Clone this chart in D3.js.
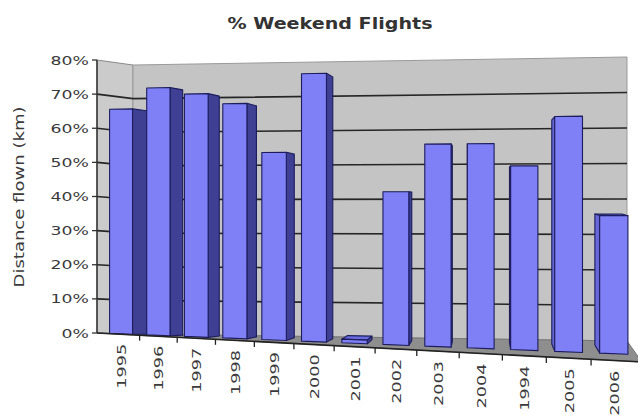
<!DOCTYPE html>
<html>
<head>
<meta charset="utf-8">
<script src="https://d3js.org/d3.v7.min.js"></script>
<style>
  body { margin: 0; background: #fff; }
  text { font-family: "DejaVu Sans", sans-serif; fill: #3a3a3a; }
</style>
</head>
<body>
<svg id="chart" width="638" height="415"></svg>
<script>
// values
const years = ["1995", "1996", "1997", "1998", "1999", "2000", "2001", "2002", "2003", "2004", "1994", "2005", "2006"];
const shares = [0.66, 0.72, 0.70, 0.67, 0.53, 0.75, 0.01, 0.42, 0.55, 0.55, 0.49, 0.62, 0.36];
const yTicks = [0, 0.1, 0.2, 0.3, 0.4, 0.5, 0.6, 0.7, 0.8];
const yTickLabels = ["0%", "10%", "20%", "30%", "40%", "50%", "60%", "70%", "80%"];
const titleText = "% Weekend Flights";
const yTitle = "Distance flown (km)";

const svg = d3.select("#chart");

// corners of the 3d box: front (z=0) and back wall (z=1)
const front = { L0: [97, 333], L1: [97, 60], R0: [642, 362], R1: [642, 40] };
const back = { L0: [133, 334], L1: [133, 65], R0: [627, 341], R1: [627, 57] };

const x = d3.scaleBand().domain(years).range([0, 0.985]).paddingInner(0.38).paddingOuter(0);
const y = d3.scaleLinear().domain([0, 0.8]).range([0, 1]);

// left side is further away -> squeeze it a bit
const squeeze = -0.1056;
const warp = u => u * (1 + squeeze) / (1 + squeeze * u);

function onFace(f, w, v) {
  const b = [f.L0[0] + (f.R0[0] - f.L0[0]) * w, f.L0[1] + (f.R0[1] - f.L0[1]) * w];
  const t = [f.L1[0] + (f.R1[0] - f.L1[0]) * w, f.L1[1] + (f.R1[1] - f.L1[1]) * w];
  return [b[0] + (t[0] - b[0]) * v, b[1] + (t[1] - b[1]) * v];
}
function project(u, v, z) {
  const w = warp(u);
  const p = onFace(front, w, v), q = onFace(back, w, v);
  return [p[0] + (q[0] - p[0]) * z, p[1] + (q[1] - p[1]) * z];
}
const poly = pts => "M" + pts.map(p => p[0].toFixed(2) + "," + p[1].toFixed(2)).join("L") + "Z";

function stretch(sel, k) {
  sel.each(function () {
    const len = this.getComputedTextLength();
    d3.select(this).attr("textLength", len * k).attr("lengthAdjust", "spacingAndGlyphs");
  });
}

// walls + floor
svg.append("path")
  .attr("d", poly([project(0, 0, 0), project(0, 1, 0), project(0, 1, 1), project(0, 0, 1)]))
  .attr("fill", "#cbcbcb").attr("stroke", "#8a8a8a").attr("stroke-width", 1);
svg.append("path")
  .attr("d", poly([project(0, 0, 1), project(0, 1, 1), project(1, 1, 1), project(1, 0, 1)]))
  .attr("fill", "#c4c4c4").attr("stroke", "#9a9a9a").attr("stroke-width", 1);
svg.append("path")
  .attr("d", poly([project(0, 0, 0), project(1, 0, 0), project(1, 0, 1), project(0, 0, 1)]))
  .attr("fill", "#8e8e8e").attr("stroke", "#777").attr("stroke-width", 1);

// gridlines on left wall and back wall
const grid = svg.append("g").attr("stroke", "#262626").attr("stroke-width", 1.6);
yTicks.filter(t => t > 0 && t < 0.8).forEach(t => {
  const v = y(t);
  const a = project(0, v, 0), b = project(0, v, 1), c = project(1, v, 1);
  grid.append("path").attr("fill", "none")
    .attr("d", "M" + a.join(",") + "L" + b.join(",") + "L" + c.join(","));
});

// bars
const z0 = 0.35, z1 = 0.77;
const bars = years.map((yr, i) => {
  const u0 = x(yr), u1 = u0 + x.bandwidth(), v = y(shares[i]);
  const FL = project(u0, 0, z0), FR = project(u1, 0, z0);
  const FTL = project(u0, v, z0), FTR = project(u1, v, z0);
  const BL = project(u0, 0, z1), BR = project(u1, 0, z1);
  const BTL = project(u0, v, z1), BTR = project(u1, v, z1);
  const rightSide = BTR[0] > FTR[0];
  return { yr, FL, FR, FTL, FTR, BL, BR, BTL, BTR, rightSide,
           depth: Math.abs(rightSide ? BTR[0] - FTR[0] : BTL[0] - FTL[0]) };
});
bars.sort((a, b) => b.depth - a.depth);

const barG = svg.append("g").attr("stroke", "#1d1d5e").attr("stroke-width", 1.1).attr("stroke-linejoin", "round");
bars.forEach(d => {
  if (d.BTL[1] < d.FTL[1]) {
    barG.append("path").attr("d", poly([d.FTL, d.FTR, d.BTR, d.BTL])).attr("fill", "#6b6be0");
  }
  if (d.rightSide) {
    barG.append("path").attr("d", poly([d.FR, d.FTR, d.BTR, d.BR])).attr("fill", "#3f3f94");
  } else {
    barG.append("path").attr("d", poly([d.FL, d.FTL, d.BTL, d.BL])).attr("fill", "#6767d8");
  }
  barG.append("path").attr("d", poly([d.FL, d.FTL, d.FTR, d.FR])).attr("fill", "#7f7ff6");
});

// value axis on the front-left edge
const axisG = svg.append("g");
const a0 = project(0, 0, 0), a1 = project(0, 1, 0);
axisG.append("line").attr("x1", a0[0]).attr("y1", a0[1]).attr("x2", a1[0]).attr("y2", a1[1])
  .attr("stroke", "#333").attr("stroke-width", 1.5);
yTicks.forEach((t, i) => {
  const p = project(0, y(t), 0);
  axisG.append("line").attr("x1", p[0] - 5).attr("x2", p[0]).attr("y1", p[1]).attr("y2", p[1])
    .attr("stroke", "#333").attr("stroke-width", 1.3);
  axisG.append("text").attr("class", "ylab")
    .attr("x", p[0] - 8).attr("y", p[1] + 4.5)
    .attr("text-anchor", "end").attr("font-size", 12.5)
    .text(yTickLabels[i]);
});
stretch(axisG.selectAll("text.ylab"), 1.38);

// category axis along the floor's front edge
const catG = svg.append("g");
const b0 = project(0, 0, 0), b1 = project(1, 0, 0);
catG.append("line").attr("x1", b0[0]).attr("y1", b0[1]).attr("x2", b1[0]).attr("y2", b1[1])
  .attr("stroke", "#222").attr("stroke-width", 1.6);
const gap = x.step() - x.bandwidth();
years.slice(0, -1).forEach(yr => {
  const u = x(yr) + x.bandwidth() + gap / 2;
  const pf = project(u, 0, 0), pb = project(u, 0, z0);
  catG.append("line").attr("x1", pb[0]).attr("x2", pb[0]).attr("y1", pf[1]).attr("y2", pf[1] + 6)
    .attr("stroke", "#222").attr("stroke-width", 1.3);
});
years.forEach(yr => {
  const u = x(yr) + x.bandwidth() / 2;
  const pf = project(u, 0, 0), pb = project(u, 0, z0);
  catG.append("text").attr("class", "xlab")
    .attr("transform", `translate(${pb[0] + 5},${pf[1] + 10}) rotate(-90)`)
    .attr("text-anchor", "end").attr("font-size", 13)
    .text(yr);
});
stretch(catG.selectAll("text.xlab"), 1.36);

// titles
svg.append("text")
  .attr("x", 330).attr("y", 29)
  .attr("text-anchor", "middle").attr("font-size", 16).attr("font-weight", "bold")
  .attr("textLength", 205).attr("lengthAdjust", "spacingAndGlyphs")
  .style("fill", "#333")
  .text(titleText);

svg.append("text")
  .attr("transform", "translate(24,197) rotate(-90)")
  .attr("text-anchor", "middle").attr("font-size", 14)
  .attr("textLength", 181).attr("lengthAdjust", "spacingAndGlyphs")
  .text(yTitle);
</script>
</body>
</html>
